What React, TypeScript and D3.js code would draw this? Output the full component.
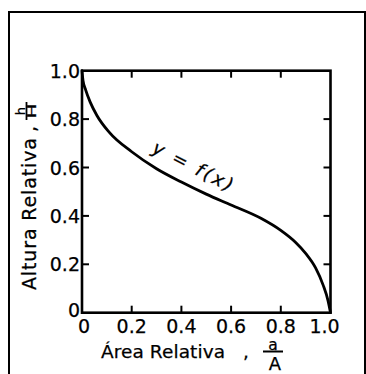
import React from "react";
import * as d3 from "d3";

// Hypsometric curve: relative area (a/A) vs relative height (h/H)
const relArea = [0, 0.004, 0.015, 0.033, 0.06, 0.11, 0.2, 0.3, 0.4, 0.5, 0.6, 0.72, 0.8, 0.86, 0.9, 0.94, 0.97, 0.99, 1.0];
const relHeight = [1.0, 0.96, 0.92, 0.87, 0.815, 0.745, 0.665, 0.595, 0.54, 0.49, 0.445, 0.39, 0.34, 0.29, 0.245, 0.185, 0.115, 0.05, 0.0];

const xTicks = [0, 0.2, 0.4, 0.6, 0.8, 1.0];
const xTickLabels = ["0", "0.2", "0.4", "0.6", "0.8", "1.0"];
const yTicks = [0, 0.2, 0.4, 0.6, 0.8, 1.0];
const yTickLabels = ["0", "0.2", "0.4", "0.6", "0.8", "1.0"];
const innerTicks = [0.2, 0.4, 0.6, 0.8];

const W = 366;
const H = 374;
const FONT = "'DejaVu Sans', sans-serif";

export default function App() {
  const x = d3.scaleLinear().domain([0, 1]).range([82, 330.5]);
  const y = d3.scaleLinear().domain([0, 1]).range([312.7, 70.7]);
  const tickLen = 7;

  const pts: [number, number][] = relArea.map((a, i) => [a, relHeight[i]]);
  const line = d3
    .line<[number, number]>()
    .x((d) => x(d[0]))
    .y((d) => y(d[1]))
    .curve(d3.curveMonotoneX);

  const [x0, x1] = x.range();
  const [y0, y1] = y.range();

  // slightly heavier lettering
  const ink = { fill: "#000", stroke: "#000", strokeWidth: 0.25 };

  return (
    <svg
      width={W}
      height={H}
      style={{ position: "absolute", left: 0, top: 0, background: "#fff" }}
      fontFamily={FONT}
    >
      {/* outer border */}
      <path d={`M9,${H + 2} V12 H365 V${H + 2}`} fill="none" stroke="#000" strokeWidth={2} />

      {/* plot frame */}
      <rect x={x0} y={y1} width={x1 - x0} height={y0 - y1} fill="none" stroke="#000" strokeWidth={2.6} />

      {/* inward ticks on all four sides */}
      {innerTicks.map((t) => (
        <g key={`t${t}`} stroke="#000" strokeWidth={2}>
          <line x1={x(t)} x2={x(t)} y1={y0} y2={y0 - tickLen} />
          <line x1={x(t)} x2={x(t)} y1={y1} y2={y1 + tickLen} />
          <line x1={x0} x2={x0 + tickLen} y1={y(t)} y2={y(t)} />
          <line x1={x1} x2={x1 - tickLen} y1={y(t)} y2={y(t)} />
        </g>
      ))}

      <g {...ink}>
        {/* x tick labels */}
        {xTicks.map((t, i) => (
          <text
            key={`xl${t}`}
            x={x(t) + (t === 1 ? -6 : t === 0 ? 2 : 0)}
            y={333}
            fontSize={19}
            textAnchor="middle"
          >
            {xTickLabels[i]}
          </text>
        ))}

        {/* y tick labels */}
        {yTicks.map((t, i) => (
          <text
            key={`yl${t}`}
            x={80}
            y={y(t) + (t === 0 ? 4 : 7)}
            fontSize={19}
            textAnchor="end"
          >
            {yTickLabels[i]}
          </text>
        ))}

        {/* curve label */}
        <text
          transform="translate(151,152) rotate(27)"
          fontSize={18.5}
          fontStyle="italic"
          letterSpacing={2.5}
        >
          y = f(x)
        </text>

        {/* x axis title */}
        <text x={101} y={357.5} fontSize={18.5} textLength={124} lengthAdjust="spacing">
          Área Relativa
        </text>
        <text x={243} y={357.5} fontSize={18.5}>
          ,
        </text>
        <text x={273} y={349.5} fontSize={15.5} textAnchor="middle">
          a
        </text>
        <text x={275} y={369.5} fontSize={18} textAnchor="middle">
          A
        </text>

        {/* y axis title */}
        <g transform="translate(36,290) rotate(-90)">
          <text x={0} y={0} fontSize={19} textLength={152} lengthAdjust="spacing">
            Altura Relativa
          </text>
          <text x={158} y={0} fontSize={19}>
            ,
          </text>
          <text x={179} y={-11.5} fontSize={13} textAnchor="middle">
            h
          </text>
          <text
            x={171.5}
            y={0}
            fontSize={12}
            textLength={15}
            lengthAdjust="spacingAndGlyphs"
          >
            H
          </text>
        </g>
      </g>

      {/* fraction bars */}
      <line x1={263} x2={283} y1={351.5} y2={351.5} stroke="#000" strokeWidth={2} />
      <line x1={26.5} x2={26.5} y1={120} y2={102} stroke="#000" strokeWidth={1.8} />

      {/* curve */}
      <path d={line(pts) ?? ""} fill="none" stroke="#000" strokeWidth={2.8} strokeLinecap="round" />
    </svg>
  );
}
